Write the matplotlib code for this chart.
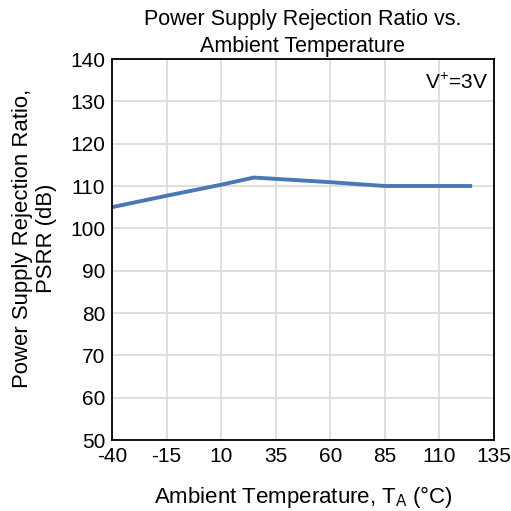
import matplotlib
matplotlib.use("Agg")
import matplotlib.pyplot as plt

plt.rcParams['font.family'] = ['Liberation Sans', 'DejaVu Sans']
plt.rcParams['axes.unicode_minus'] = False

# data
temp = [-40, -15, 10, 25, 60, 85, 125]
psrr = [105, 107.7, 110.3, 112, 110.9, 110, 110]
xticks = [-40, -15, 10, 35, 60, 85, 110, 135]
yticks = [50, 60, 70, 80, 90, 100, 110, 120, 130, 140]

fig = plt.figure(figsize=(5.11, 5.11), dpi=100)
ax = fig.add_axes([112/511, 71/511, 382/511, 381/511])

ax.plot(temp, psrr, color='#4a78b6', lw=2.8, solid_capstyle='butt')
ax.set_xlim(-40, 135)
ax.set_ylim(50, 140)
ax.set_xticks(xticks)
ax.set_yticks(yticks)
ax.grid(True, color='#d9d9d9', lw=1.2)
ax.set_axisbelow(True)
ax.tick_params(length=0, labelsize=15)
ax.tick_params(axis='x', pad=5)
ax.tick_params(axis='y', pad=5)
for s in ax.spines.values():
    s.set_color('black')
    s.set_linewidth(1.3)

ax.set_title('Power Supply Rejection Ratio vs.\nAmbient Temperature',
             fontsize=15.5, pad=5, linespacing=1.35,
             family=['Liberation Sans Narrow', 'Liberation Sans'])
ax.set_xlabel('Ambient Temperature, T$_\\mathregular{A}$ (°C)', fontsize=16, labelpad=13)
ax.set_ylabel('Power Supply Rejection Ratio,\nPSRR (dB)', fontsize=15.9, linespacing=1.15)
ax.yaxis.set_label_coords(-0.145, 0.53)
ax.text(0.985, 0.965, 'V$^\\mathregular{+}$=3V', transform=ax.transAxes,
        ha='right', va='top', fontsize=15)

fig.savefig('out.png', dpi=100)
